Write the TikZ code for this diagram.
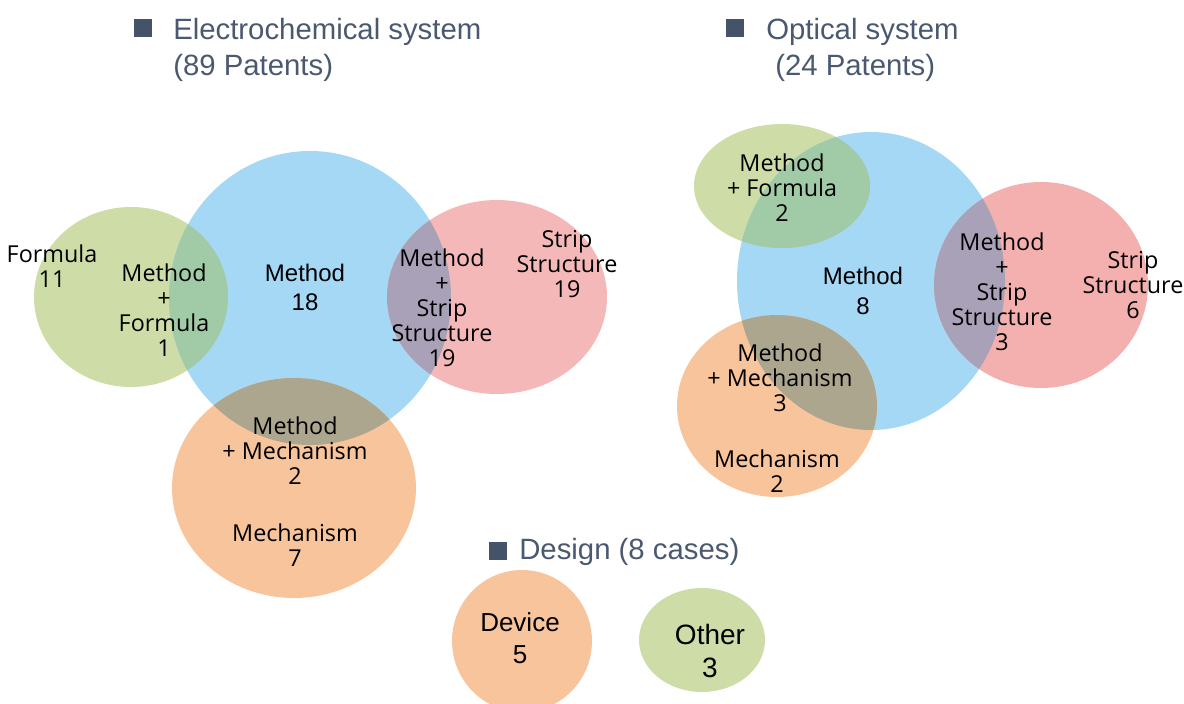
\documentclass[tikz,border=0pt]{standalone}
\usepackage{fontspec}
\setmainfont{Liberation Sans}
\newfontfamily\lab{Open Sans}
\definecolor{cgreen}{HTML}{CEDCA8}
\definecolor{cblue}{HTML}{A5D8F5}
\definecolor{cpink}{HTML}{F4B8B8}
\definecolor{cpinkb}{HTML}{F3B0AF}
\definecolor{corange}{HTML}{F8C49C}
\definecolor{cgb}{HTML}{A1CAA6}
\definecolor{cbp}{HTML}{A9A1B8}
\definecolor{cbo}{HTML}{ACA68F}
\definecolor{ctitle}{HTML}{4A5870}
\definecolor{csq}{HTML}{455369}
\tikzset{
  lbl/.style={font=\lab\fontsize{17.5}{18.75}\selectfont, align=center, text=black, inner sep=0pt},
  albl/.style={font=\fontsize{18}{22}\selectfont, align=center, text=black, inner sep=0pt},
  ttl/.style={font=\fontsize{22}{26}\selectfont, text=ctitle, inner sep=0pt, anchor=base west},
  sqbox/.style={fill=csq, minimum size=13.5pt, inner sep=0pt},
}
\begin{document}
\begin{tikzpicture}[x=0.75pt,y=-0.75pt]
\useasboundingbox (0,0) rectangle (1184,703);
% ---------- Electrochemical ----------
\def\EG{(131,297) ellipse [x radius=97, y radius=90]}
\def\EB{(310,298) ellipse [x radius=141, y radius=147]}
\def\EP{(497,297) ellipse [x radius=110, y radius=97]}
\def\EO{(294,488) ellipse [x radius=122, y radius=110]}
\fill[cgreen] \EG;
\fill[cblue] \EB;
\fill[cpink] \EP;
\fill[corange] \EO;
\begin{scope}\clip \EB; \fill[cgb] \EG; \fill[cbp] \EP; \fill[cbo] \EO; \end{scope}
% ---------- Optical ----------
\def\OG{(782,186) ellipse [x radius=88, y radius=62]}
\def\OB{(871,281) ellipse [x radius=134, y radius=149]}
\def\OP{(1041,285) ellipse [x radius=107, y radius=103]}
\def\OO{(777,406) ellipse [x radius=100, y radius=91]}
\fill[cgreen] \OG;
\fill[cblue] \OB;
\fill[cpinkb] \OP;
\fill[corange] \OO;
\begin{scope}\clip \OB; \fill[cgb] \OG; \fill[cbp] \OP; \fill[cbo] \OO; \end{scope}
% ---------- Design ----------
\fill[corange] (522,641) ellipse [x radius=70, y radius=71];
\fill[cgreen] (702,640) ellipse [x radius=63, y radius=52];
% ---------- Titles ----------
\node[sqbox] (sq1) at (142.5,28) {};
\node[ttl] (t1a) at (173,39) {Electrochemical system};
\node[ttl] (t1b) at (173,75) {(89 Patents)};
\node[sqbox] (sq2) at (735,28) {};
\node[ttl] (t2a) at (766,39) {Optical system};
\node[ttl] (t2b) at (775,75) {(24 Patents)};
\node[sqbox] (sq3) at (497.5,550.5) {};
\node[ttl] (t3) at (519,559) {Design (8 cases)};
% ---------- Labels electrochemical ----------
\node[lbl] (e1) at (52,266) {Formula\\11};
\node[lbl] (e2) at (164,310) {Method\\+\\Formula\\1};
\node[albl] (e3) at (305,287.5) {Method\\18};
\node[lbl] (e4) at (442,308) {Method\\+\\Strip\\Structure\\19};
\node[lbl] (e5) at (567,264) {Strip\\Structure\\19};
\node[lbl] (e6) at (295,451) {Method\\+ Mechanism\\2};
\node[lbl] (e7) at (295,545) {Mechanism\\7};
% ---------- Labels optical ----------
\node[lbl] (o1) at (782,188) {Method\\+ Formula\\2};
\node[albl] (o2) at (863,291) {Method\\8};
\node[lbl] (o3) at (1002,292) {Method\\+\\Strip\\Structure\\3};
\node[lbl] (o4) at (1133,285) {Strip\\Structure\\6};
\node[lbl] (o5) at (780,378) {Method\\+ Mechanism\\3};
\node[lbl] (o6) at (777,471) {Mechanism\\2};
% ---------- Design labels ----------
\node[align=center, inner sep=0pt, font=\fontsize{19.5}{24}\selectfont] (d1) at (520,638) {Device\\5};
\node[align=center, inner sep=0pt, font=\fontsize{21}{24.75}\selectfont] (d2) at (710,650.5) {Other\\3};
\end{tikzpicture}
\end{document}
